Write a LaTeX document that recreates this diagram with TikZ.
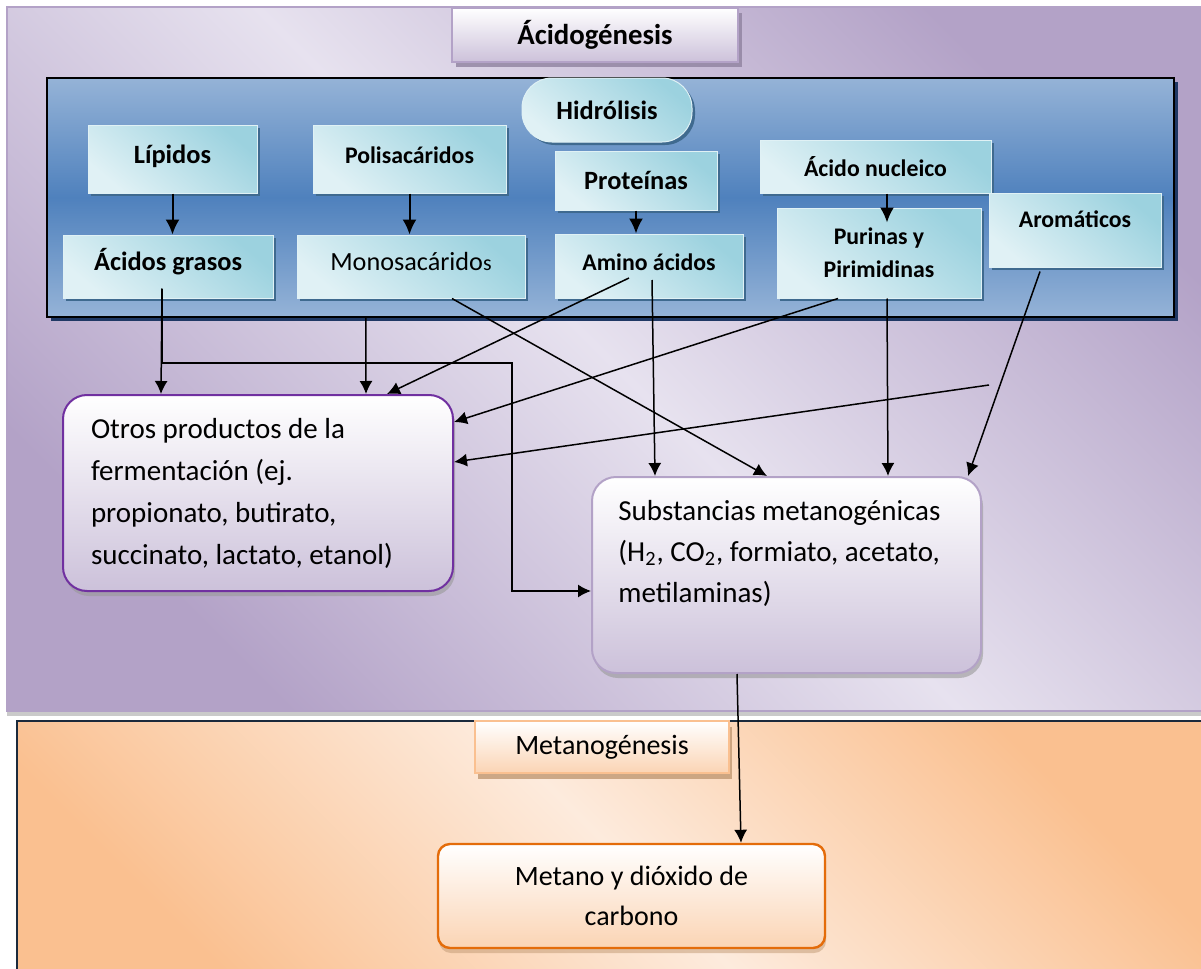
\documentclass[tikz,border=0pt]{standalone}
\usepackage{fontspec}
\setmainfont{Carlito}
\usetikzlibrary{arrows.meta,shadows,calc}

\definecolor{lila}{HTML}{B3A2C7}
\definecolor{lilaclaro}{HTML}{E7E2EF}
\definecolor{lilafondo}{HTML}{CCC1DA}
\definecolor{azul}{HTML}{4F81BD}
\definecolor{azulclaro}{HTML}{95B3D7}
\definecolor{marino}{HTML}{1F3864}
\definecolor{cian}{HTML}{9CD2DF}
\definecolor{cianclaro}{HTML}{E0F1F5}
\definecolor{sombra}{HTML}{3F6A8F}
\definecolor{morado}{HTML}{7030A0}
\definecolor{naranja}{HTML}{E46C0A}
\definecolor{melocoton}{HTML}{FAC090}
\definecolor{melocotonclaro}{HTML}{FDEBDD}
\definecolor{durazno}{HTML}{FBD4B4}
\definecolor{tostado}{HTML}{C09872}
\definecolor{borde}{HTML}{1B2A3C}

\begin{document}
\begin{tikzpicture}[x=0.5pt,y=-0.5pt,>={Latex[length=6.5pt,width=6.5pt]},
  caja/.style={draw=cianclaro,line width=0.5pt,top color=cian,bottom color=cianclaro,shading angle=-40,
    font=\bfseries\fontsize{11.9}{16.5}\selectfont,
    drop shadow={shadow xshift=1.5pt,shadow yshift=-1.5pt,fill=sombra,opacity=1}},
  grande/.style={font=\bfseries\fontsize{13.2}{16}\selectfont},
  alto/.style={text height=9pt,text depth=5pt},
  flecha/.style={->,line width=0.75pt},
  interna/.style={->,line width=1pt,>={Latex[length=7.5pt,width=7pt]}}]
\useasboundingbox (0,0) rectangle (1201,969);
\node[draw=lila,line width=1pt,top color=lila,bottom color=lila,middle color=lilaclaro,shading angle=-45,
  minimum width=601.5pt,minimum height=352pt,
  drop shadow={shadow xshift=0pt,shadow yshift=-2.5pt,fill=black!35,opacity=.6}] (pacid) at (608.5,359) {};
\node[draw=borde,line width=1pt,top color=melocoton,bottom color=melocoton,middle color=melocotonclaro,shading angle=-45,
  minimum width=596.5pt,minimum height=129.5pt] (pmet) at (613.5,850.5) {};
\node[draw=lila,line width=0.8pt,top color=white,bottom color=lilafondo,minimum width=143pt,minimum height=27pt,
  font=\bfseries\fontsize{14.4}{17}\selectfont,
  drop shadow={shadow xshift=2pt,shadow yshift=-2.5pt,fill=lila!80!black,opacity=.8}] (acid) at (595,35) {Ácidogénesis};
\node[draw=black,line width=1.2pt,top color=azulclaro,bottom color=azulclaro,middle color=azul,
  minimum width=563.5pt,minimum height=119.5pt,
  drop shadow={shadow xshift=2pt,shadow yshift=-2pt,fill=marino,opacity=1}] (phid) at (610.5,197.5) {};

\node[caja,grande,rounded corners=15pt,minimum width=85pt,minimum height=32pt] (hid) at (607,110) {Hidrólisis};
\node[caja,grande,alto,minimum width=84.5pt,minimum height=34pt] (lip) at (172.5,159) {Lípidos};
\node[caja,alto,minimum width=96.5pt,minimum height=34pt] (pol) at (409.5,159) {Polisacáridos};
\node[caja,grande,minimum width=81pt,minimum height=29.5pt] (pro) at (636,180.5) {Proteínas};
\node[caja,minimum width=115.5pt,minimum height=26.5pt] (anu) at (875.5,166.5) {Ácido nucleico};
\node[caja,text height=9pt,text depth=12pt,minimum width=86pt,minimum height=37pt] (aro) at (1075,230) {Aromáticos};
\node[caja,grande,alto,minimum width=105pt,minimum height=31.5pt] (agr) at (168,266.5) {Ácidos grasos};
\node[caja,alto,font=\fontsize{13.1}{16}\selectfont,minimum width=114pt,minimum height=31.5pt] (mon) at (411,266.5)
  {Monosacárido{\fontsize{11}{13}\selectfont s}};
\node[caja,alto,minimum width=94pt,minimum height=32pt] (ami) at (649,266) {Amino ácidos};
\node[caja,align=center,minimum width=102pt,minimum height=45pt] (pur) at (879,253) {Purinas y\\Pirimidinas};

\node[draw=morado,line width=1pt,rounded corners=12pt,top color=white,bottom color=lilafondo,
  minimum width=195pt,minimum height=98pt,text width=167pt,align=flush left,font=\fontsize{14.5}{21}\selectfont,
  drop shadow={shadow xshift=1pt,shadow yshift=-2.5pt,fill=black!40,opacity=.6}] (otr) at (258,493)
  {Otros productos de la\\fermentación (ej.\\propionato, butirato,\\succinato, lactato, etanol)};
\node[draw=lila,line width=1pt,rounded corners=12pt,top color=white,bottom color=lilafondo,
  minimum width=194.5pt,minimum height=98pt,
  drop shadow={shadow xshift=1pt,shadow yshift=-2.5pt,fill=black!40,opacity=.6}] (sub) at (786.5,575) {};
\node[anchor=north west,inner sep=0pt,align=left,font=\fontsize{14.5}{20.5}\selectfont] (subt)
  at ($(sub.north west)+(27,24)$)
  {Substancias metanogénicas\\(H\textsubscript{2}, CO\textsubscript{2}, formiato, acetato,\\metilaminas)};

\node[draw=melocoton,line width=0.8pt,top color=white,bottom color=durazno,minimum width=127pt,minimum height=26pt,
  font=\fontsize{14}{17}\selectfont,
  drop shadow={shadow xshift=1.5pt,shadow yshift=-3pt,fill=tostado,opacity=.8}] (metg) at (602,747) {Metanogénesis};
\node[draw=naranja,line width=1.2pt,rounded corners=6pt,top color=white,bottom color=durazno,
  minimum width=193.5pt,minimum height=52pt,align=center,font=\fontsize{14}{20}\selectfont,
  drop shadow={shadow xshift=0.5pt,shadow yshift=-2.5pt,fill=tostado,opacity=.5}] (met) at (631.5,896)
  {Metano y dióxido de\\carbono};

\coordinate (cruce) at (512,363);
\coordinate (libre) at (989,385);
\path[interna] (lip.south) edge (lip.south |- agr.north)
  (pol.south) edge (pol.south |- mon.north)
  (pro.south) edge (pro.south |- ami.north)
  ($(anu.south)+(11.5,0)$) edge ($(pur.north)+(8,15)$);
\path[flecha] ($(agr.south)+(-6,-10)$) edge ($(otr.north west)+(99,0)$)
  ($(phid.south west)+(320,0)$) edge ($(otr.north west)+(304,0)$)
  ($(ami.center)+(-20,12)$) edge ($(otr.north west)+(325,0)$)
  ($(ami.center)+(3,14)$) edge ($(sub.north west)+(64,0)$)
  ($(mon.south)+(41,0)$) edge ($(sub.north west)+(176,0)$)
  ($(pur.south)+(-41,0)$) edge ($(otr.north east)+(0,28)$)
  (libre) edge ($(otr.north east)+(0,68)$)
  ($(aro.south)+(-35,4)$) edge ($(sub.north east)+(-14,0)$)
  ($(pur.south)+(8,0)$) edge ($(sub.north west)+(297,0)$)
  ($(sub.south)+(-49.5,0)$) edge ($(met.north)+(109.5,0)$);
\draw[flecha] ($(agr.south)+(-6,-10)$) |- (cruce) |- ($(sub.west)+(0,16)$);
\end{tikzpicture}
\end{document}
